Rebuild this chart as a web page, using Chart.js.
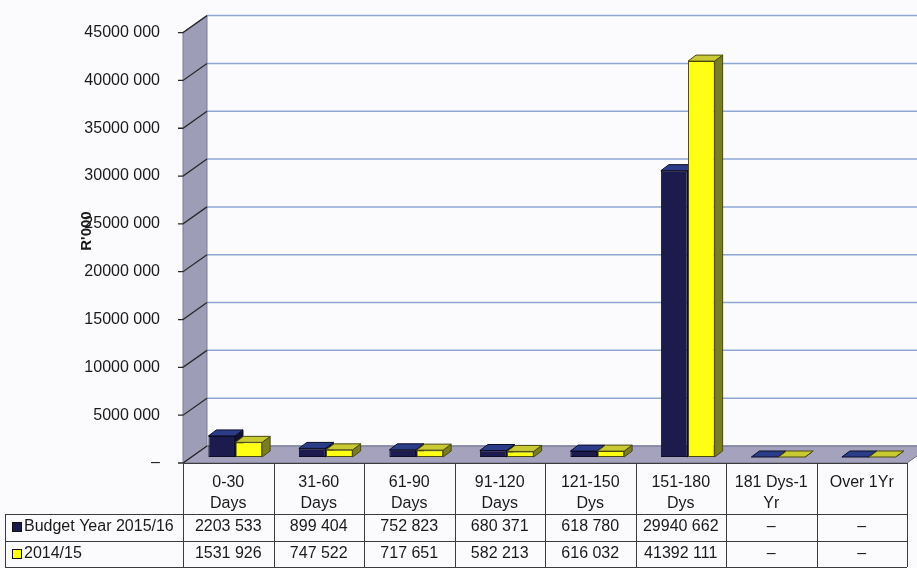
<!DOCTYPE html>
<html>
<head>
<meta charset="utf-8">
<script src="https://cdn.jsdelivr.net/npm/chart.js@4.4.0/dist/chart.umd.min.js"></script>
<style>
    html, body { margin: 0; padding: 0; background: #fbfbfd; }
    #wrap { width: 917px; height: 568px; position: relative; }
</style>
</head>
<body>
<div id="wrap"><canvas id="debtorsAgeChart"></canvas></div>
<script>
// Debtors age analysis (R'000)
const ageCategories = [['0-30', 'Days'], ['31-60', 'Days'], ['61-90', 'Days'], ['91-120', 'Days'],
    ['121-150', 'Dys'], ['151-180', 'Dys'], ['181 Dys-1', 'Yr'], ['Over 1Yr']];
const budget201516 = [2203533, 899404, 752823, 680371, 618780, 29940662, 0, 0];
const year201415 = [1531926, 747522, 717651, 582213, 616032, 41392111, 0, 0];
const seriesNames = ['Budget Year 2015/16', '2014/15'];
const yMax = 45000000;
const yStep = 5000000;

// 3D look: wall depth and bar depth
const WALL_DX = 24, WALL_DY = 17;
const BAR_DX = 8, BAR_DY = 6;
const BAR_SHIFT_X = 7, BAR_SHIFT_Y = -6;

const faceColors = [
    { front: '#1b1b4e', top: '#2b3d88', side: '#101032', edge: '#0c0c26' },
    { front: '#ffff14', top: '#c9c934', side: '#7b7d22', edge: '#4a4a10' }
];

const FONT = '"Liberation Sans", Arial, sans-serif';

function fmtRand(v) {
    if (!v) return '\u2013';
    const th = Math.floor(v / 1000);
    const rest = String(v % 1000).padStart(3, '0');
    return th > 0 ? th + ' ' + rest : rest;
}

function poly(ctx, pts, fill, stroke) {
    ctx.beginPath();
    ctx.moveTo(pts[0][0], pts[0][1]);
    for (let i = 1; i < pts.length; i++) ctx.lineTo(pts[i][0], pts[i][1]);
    ctx.closePath();
    if (fill) { ctx.fillStyle = fill; ctx.fill(); }
    if (stroke) { ctx.strokeStyle = stroke; ctx.lineWidth = 1; ctx.stroke(); }
}

const wallsPlugin = {
    id: 'walls3d',
    beforeDatasetsDraw(chart) {
        const { ctx, chartArea: ca, scales: { y } } = chart;
        const W = chart.width;
        ctx.save();

        // back wall gridlines
        ctx.strokeStyle = '#8ea6d4';
        ctx.lineWidth = 1.5;
        y.ticks.forEach(t => {
            const py = y.getPixelForValue(t.value) - WALL_DY;
            ctx.beginPath();
            ctx.moveTo(ca.left + WALL_DX, py);
            ctx.lineTo(W, py);
            ctx.stroke();
        });

        // side wall
        poly(ctx, [[ca.left, ca.top], [ca.left + WALL_DX, ca.top - WALL_DY],
            [ca.left + WALL_DX, ca.bottom - WALL_DY], [ca.left, ca.bottom]], '#9d9db8', '#7c7c96');

        // floor
        poly(ctx, [[ca.left, ca.bottom], [ca.right, ca.bottom],
            [ca.right + WALL_DX, ca.bottom - WALL_DY], [ca.left + WALL_DX, ca.bottom - WALL_DY]], '#a4a2bc', '#6e6e88');

        // tick marks running up the side wall
        ctx.strokeStyle = '#2a2a2a';
        ctx.lineWidth = 1.3;
        y.ticks.forEach(t => {
            const py = y.getPixelForValue(t.value);
            ctx.beginPath();
            ctx.moveTo(ca.left - 5, py);
            ctx.lineTo(ca.left, py);
            ctx.lineTo(ca.left + WALL_DX, py - WALL_DY);
            ctx.stroke();
        });

        // bars sit part way into the floor
        ctx.translate(BAR_SHIFT_X, BAR_SHIFT_Y);
        chart.data.datasets.forEach((ds, di) => {
            const meta = chart.getDatasetMeta(di);
            const c = faceColors[di];
            meta.data.forEach(bar => {
                const { x, y: top, base, width } = bar.getProps(['x', 'y', 'base', 'width'], true);
                const x0 = x - width / 2, x1 = x + width / 2;
                poly(ctx, [[x1, top], [x1 + BAR_DX, top - BAR_DY], [x1 + BAR_DX, base - BAR_DY], [x1, base]], c.side, c.edge);
                poly(ctx, [[x0, top], [x1, top], [x1 + BAR_DX, top - BAR_DY], [x0 + BAR_DX, top - BAR_DY]], c.top, c.edge);
            });
        });
        // restored in afterDatasetsDraw so the front faces get the same shift
    },
    afterDatasetsDraw(chart) {
        chart.ctx.restore();
    },
    afterDraw(chart) {
        const { ctx, chartArea: ca, scales: { x } } = chart;
        const colW = (x.right - x.left) / ageCategories.length;
        const rowTop = ca.bottom, rowHead = ca.bottom + 51, row1 = ca.bottom + 78, rowEnd = chart.height - 1;
        const tableLeft = 5;

        ctx.save();
        ctx.strokeStyle = '#3c3c3c';
        ctx.lineWidth = 1;
        const hline = (yy, x0) => { ctx.beginPath(); ctx.moveTo(x0, yy + 0.5); ctx.lineTo(x.right, yy + 0.5); ctx.stroke(); };
        const vline = (xx, y0) => { ctx.beginPath(); ctx.moveTo(Math.round(xx) + 0.5, y0); ctx.lineTo(Math.round(xx) + 0.5, rowEnd); ctx.stroke(); };
        hline(rowTop, x.left);
        hline(rowHead, tableLeft);
        hline(row1, tableLeft);
        hline(rowEnd, tableLeft);
        vline(tableLeft, rowHead);
        for (let i = 0; i <= ageCategories.length; i++) vline(x.left + i * colW, rowTop);

        ctx.fillStyle = '#1a1a1a';
        ctx.font = '16px ' + FONT;
        ctx.textBaseline = 'middle';
        ctx.textAlign = 'center';
        ageCategories.forEach((lines, i) => {
            const cx = x.getPixelForValue(i);
            lines.forEach((ln, k) => ctx.fillText(ln, cx, rowTop + 20 + k * 21));
            ctx.fillText(fmtRand(budget201516[i]), cx, rowHead + 13);
            ctx.fillText(fmtRand(year201415[i]), cx, row1 + 13);
        });

        // legend keys in the table rows
        const rows = [rowHead + 13, row1 + 13];
        ctx.textAlign = 'left';
        seriesNames.forEach((name, di) => {
            const cy = rows[di];
            ctx.fillStyle = faceColors[di].front;
            ctx.fillRect(12, cy - 5, 10, 10);
            ctx.strokeStyle = '#111';
            ctx.strokeRect(12.5, cy - 4.5, 9, 9);
            ctx.fillStyle = '#1a1a1a';
            ctx.fillText(name, 24, cy);
        });

        // axis title
        ctx.translate(87, 231);
        ctx.rotate(-Math.PI / 2);
        ctx.textAlign = 'center';
        ctx.font = 'bold 15px ' + FONT;
        ctx.fillText("R'000", 0, 0);
        ctx.restore();
    }
};

new Chart(document.getElementById('debtorsAgeChart'), {
    type: 'bar',
    data: {
        labels: ageCategories,
        datasets: [
            { label: seriesNames[0], data: budget201516, backgroundColor: faceColors[0].front, borderColor: faceColors[0].edge, borderWidth: 1, borderSkipped: false },
            { label: seriesNames[1], data: year201415, backgroundColor: faceColors[1].front, borderColor: faceColors[1].edge, borderWidth: 1, borderSkipped: false }
        ]
    },
    options: {
        responsive: true,
        maintainAspectRatio: false,
        animation: false,
        categoryPercentage: 0.6,
        barPercentage: 0.98,
        layout: { padding: { top: 27, right: 10, bottom: 105, left: 0 } },
        scales: {
            x: { display: false },
            y: {
                min: 0,
                max: yMax,
                afterFit(scale) { scale.width = 183; },
                grid: { display: false, drawTicks: false },
                border: { display: false },
                ticks: {
                    stepSize: yStep,
                    padding: 23,
                    color: '#1a1a1a',
                    font: { family: FONT, size: 16 },
                    callback: v => fmtRand(v)
                }
            }
        },
        plugins: {
            legend: { display: false },
            tooltip: { enabled: false }
        }
    },
    plugins: [wallsPlugin]
});
</script>
</body>
</html>
